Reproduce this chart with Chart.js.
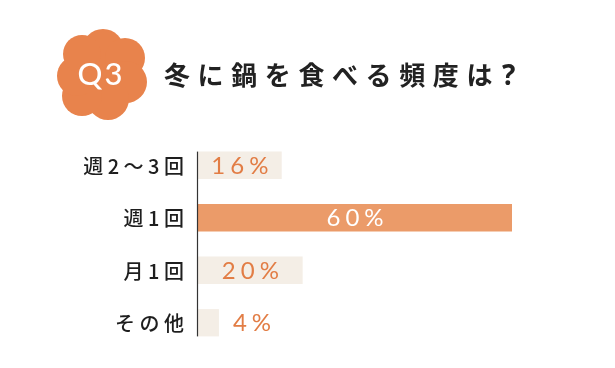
<!DOCTYPE html>
<html lang="ja">
<head>
<meta charset="utf-8">
<title>冬に鍋を食べる頻度は？</title>
<script src="https://cdn.jsdelivr.net/npm/chart.js@4/dist/chart.umd.min.js"></script>
<style>
  html, body { margin: 0; padding: 0; background: #ffffff; }
  #wrap { position: relative; width: 615px; height: 368px; overflow: hidden; }
  #chart { position: absolute; left: 0; top: 0; }
  #badge { position: absolute; left: 52px; top: 28px; width: 100px; height: 94px; }
  #title {
    position: absolute; left: 164px; top: 57px;
    font-family: "Noto Sans CJK JP", sans-serif; font-weight: 700;
    font-size: 26px; line-height: 34px; letter-spacing: 7.6px; color: #222222;
    white-space: nowrap;
  }
  #title .q { font-family: "Noto Sans", sans-serif; font-size: 28px; letter-spacing: 0; margin-left: 2px; }
</style>
</head>
<body>
<div id="wrap">
  <canvas id="chart" width="615" height="368"></canvas>
  <svg id="badge" viewBox="0 0 100 94">
    <g fill="#e8834c">
      <circle cx="49" cy="46" r="38"/>
      <circle cx="51" cy="22" r="21"/>
      <circle cx="73" cy="30" r="20"/>
      <circle cx="74" cy="54" r="21"/>
      <circle cx="56" cy="71" r="21"/>
      <circle cx="30" cy="68" r="20"/>
      <circle cx="25" cy="48" r="20"/>
      <circle cx="30" cy="26" r="19"/>
    </g>
    <text x="49" y="57" text-anchor="middle" fill="#ffffff"
          font-family="Lato, sans-serif" font-weight="500" font-size="31" letter-spacing="2">Q3</text>
  </svg>
  <div id="title">冬に鍋を食べる頻度は<span class="q">?</span></div>
</div>
<script>
// Survey answers: how often people eat nabe in winter (%)
const categories = ['週2〜3回', '週1回', '月1回', 'その他'];
const shares = [16, 60, 20, 4];
const valueLabels = ['16%', '60%', '20%', '4%'];

const barFill = ['#f4eee6', '#eb9b69', '#f4eee6', '#f4eee6'];
const labelColor = ['#e27d45', '#ffffff', '#e27d45', '#e27d45'];

// Category names, axis rule and value labels with wide tracking
const decorations = {
  id: 'decorations',
  afterDatasetsDraw(chart) {
    const ctx = chart.ctx;
    const meta = chart.getDatasetMeta(0);
    const yScale = chart.scales.y;
    const area = chart.chartArea;

    // category labels, right aligned left of the axis
    ctx.save();
    ctx.fillStyle = '#1e1e1e';
    ctx.font = '500 20px "Noto Sans CJK JP", sans-serif';
    ctx.textBaseline = 'middle';
    ctx.textAlign = 'right';
    const gap = 4.5;
    ctx.letterSpacing = gap + 'px';
    categories.forEach((c, i) => {
      const y = yScale.getPixelForValue(i);
      ctx.fillText(c, area.left - 14 + gap, y + 1);
    });
    ctx.restore();

    // vertical axis rule spanning the bars
    const first = meta.data[0], last = meta.data[meta.data.length - 1];
    ctx.save();
    ctx.strokeStyle = '#333333';
    ctx.lineWidth = 1.2;
    ctx.beginPath();
    ctx.moveTo(area.left - 0.5, first.y - first.height / 2);
    ctx.lineTo(area.left - 0.5, last.y + last.height / 2);
    ctx.stroke();
    ctx.restore();

    // value labels: centered in the bar, or after it when the bar is short
    ctx.save();
    ctx.font = '400 24px Lato, sans-serif';
    ctx.textBaseline = 'middle';
    ctx.textAlign = 'left';
    const sp = 5;
    ctx.letterSpacing = sp + 'px';
    meta.data.forEach((bar, i) => {
      const txt = valueLabels[i];
      const w = ctx.measureText(txt).width - sp;
      const barW = bar.x - bar.base;
      let x;
      if (barW > w + 20) {
        x = (bar.base + bar.x) / 2 - w / 2;
      } else {
        x = bar.x + 14;
      }
      ctx.fillStyle = labelColor[i];
      ctx.fillText(txt, x, bar.y + 1);
    });
    ctx.restore();
  }
};

new Chart(document.getElementById('chart'), {
  type: 'bar',
  data: {
    labels: categories,
    datasets: [{
      data: shares,
      backgroundColor: barFill,
      borderWidth: 0,
      barPercentage: 0.52,
      categoryPercentage: 1
    }]
  },
  options: {
    indexAxis: 'y',
    responsive: false,
    animation: false,
    layout: { padding: { left: 198, right: 103, top: 139, bottom: 19 } },
    scales: {
      x: { display: false, min: 0, max: 60 },
      y: { display: false }
    },
    plugins: {
      legend: { display: false },
      tooltip: { enabled: false }
    }
  },
  plugins: [decorations]
});
</script>
</body>
</html>
